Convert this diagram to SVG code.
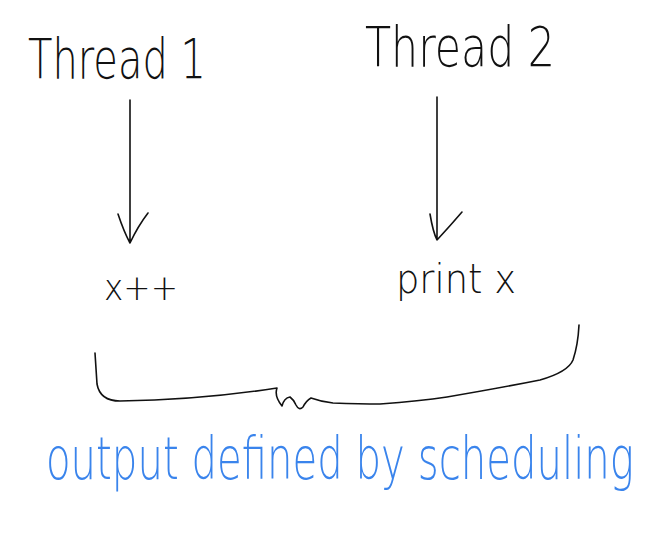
<svg xmlns="http://www.w3.org/2000/svg" width="668" height="543" viewBox="0 0 668 543">
<style>
.t{font-family:"DejaVu Sans","Liberation Sans",sans-serif;font-weight:200;fill:#111}
.b{font-family:"DejaVu Sans","Liberation Sans",sans-serif;font-weight:200;fill:#3a84ec}
.s{fill:none;stroke:#111;stroke-width:1.6;stroke-linecap:round;stroke-linejoin:round}
</style>
<rect width="668" height="543" fill="#fff"/>
<g id="thread1"><text class="t" x="28" y="78" font-size="56" textLength="178" lengthAdjust="spacingAndGlyphs">Thread 1</text></g>
<g id="thread2"><text class="t" x="365" y="66" font-size="56" textLength="190" lengthAdjust="spacingAndGlyphs">Thread 2</text></g>
<g id="xpp"><text class="t" x="104" y="300" font-size="36" textLength="74" lengthAdjust="spacingAndGlyphs">x++</text></g>
<g id="printx"><text class="t" x="396" y="293" font-size="40" textLength="120" lengthAdjust="spacingAndGlyphs">print x</text></g>
<g id="connectors">
<path class="s" d="M130 100 L130 243 M118 214 Q124 232 130 243 Q138 226 148 213"/>
<path class="s" d="M437 97 L437 240 M430 214 Q433 232 437 240 Q450 226 462 212"/>
<path class="s" d="M95 353 Q96 368 97 384 Q100 401 120 401 Q200 400 277 388 Q274 396 282 406 Q284 398 290 397 Q294 400 296 405 Q299 411 303 407 Q306 401 311 398 Q322 402 333 403 Q360 404 380 404 Q420 401 447 397 Q500 388 540 380 Q568 372 573 360 Q578 345 579 325"/>
</g>
<g id="caption"><text class="b" transform="translate(46 479) scale(1 1.45)" x="0" y="0" font-size="40" textLength="588" lengthAdjust="spacingAndGlyphs">output defined by scheduling</text></g>
</svg>
